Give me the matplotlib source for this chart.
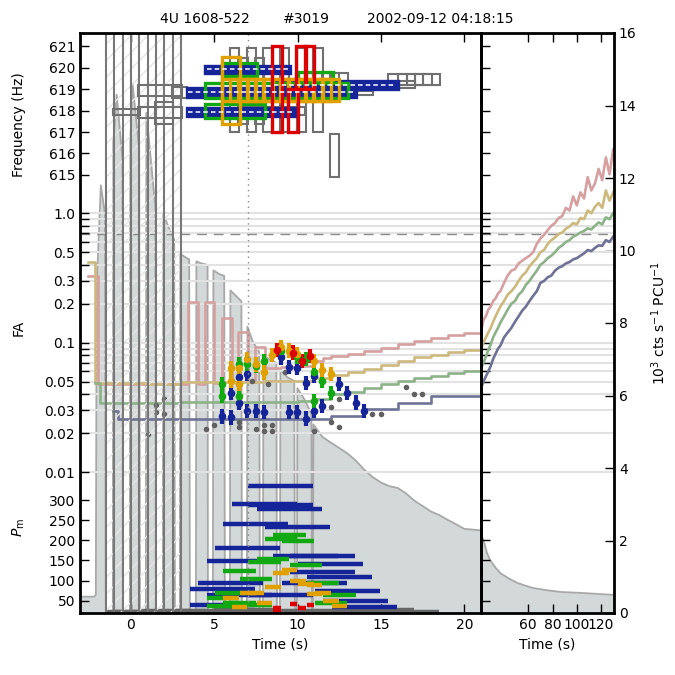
import matplotlib
matplotlib.use("Agg")
import matplotlib.pyplot as plt
from matplotlib.patches import Rectangle
from matplotlib.ticker import FixedLocator, FixedFormatter, NullLocator

# ---------------- light curve (10^3 cts/s/PCU) ----------------
lc_t = [-3.05, -2.2, -2.1, -2.05, -1.8, -1.55, -1.5, -1.08,
        -1.05, -0.85, -0.5, -0.48, -0.06,
        -0.03, 0.1, 0.5, 0.54, 0.9,
        0.93, 1.3, 1.47, 1.5, 1.92,
        1.95, 2.3, 2.6, 2.64, 2.94,
        2.97, 3.5, 3.54, 3.9,
        3.93, 4.2, 4.6, 4.62, 4.92,
        4.95, 5.3, 5.6, 5.64, 5.94,
        5.97, 6.3, 6.63, 6.66, 6.96,
        6.99, 7.3, 7.7, 7.74, 7.92,
        7.95, 8.3, 8.73, 8.76, 8.94,
        8.97, 9.4, 9.8, 9.84, 9.96,
        9.99, 10.4, 10.83, 10.86, 10.92,
        10.95, 11.5, 12.0, 12.5, 13.0, 13.5, 14.0, 14.5, 15.0, 15.5,
        16.0, 16.5, 17.0, 17.5, 18.0, 18.5, 19.0, 19.5, 20.0, 20.5, 21.0]
lc_rate = [0.45, 0.45, 0.5, 9.0, 11.8, 11.0, 0.0, 0.0,
           13.0, 14.3, 12.5, 0.0, 0.0,
           13.0, 14.6, 12.8, 0.0, 0.0,
           13.8, 12.0, 11.2, 0.0, 0.0,
           11.0, 10.6, 10.3, 0.0, 0.0,
           9.9, 9.75, 0.0, 0.0,
           9.7, 9.65, 9.6, 0.0, 0.0,
           9.45, 9.35, 9.3, 0.0, 0.0,
           8.9, 8.75, 8.6, 0.0, 0.0,
           7.9, 7.5, 7.2, 0.0, 0.0,
           7.1, 7.0, 6.9, 0.0, 0.0,
           6.7, 6.5, 6.4, 0.0, 0.0,
           6.2, 5.9, 5.5, 0.0, 0.0,
           5.2, 4.85, 4.7, 4.55, 4.4, 4.2, 3.95, 3.75, 3.6, 3.5,
           3.45, 3.3, 3.1, 2.95, 2.8, 2.7, 2.57, 2.45, 2.32, 2.3, 2.28]
lc2_t = [21.0, 22.0, 24.0, 26.0, 28.5, 33.0, 37.0, 44.0, 51.0, 58.0,
         64.0, 75.0, 87.0, 106.0, 120.0, 131.0]
lc2_rate = [2.28, 2.1, 1.9, 1.65, 1.46, 1.25, 1.1, 0.95, 0.83, 0.75,
            0.69, 0.63, 0.58, 0.55, 0.52, 0.5]

# edges of the hatched (excluded) intervals
hatch_edges = [-1.5, -1.0, -0.5, 0.0, 0.5, 1.0, 1.5, 2.0, 2.5, 3.0]

# ---------------- frequency boxes: (t0, t1, f0, f1) ----------------
grey_boxes = [(-1.05, 0.55, 617.8, 618.1), (0.45, 3.05, 618.7, 619.2),
              (0.45, 3.05, 617.65, 618.16), (1.45, 2.5, 617.4, 618.4),
              (2.45, 3.35, 618.6, 619.1), (4.45, 5.95, 619.76, 620.1),
              (5.95, 6.5, 617.0, 620.95), (6.95, 7.5, 617.0, 620.95),
              (7.95, 8.5, 617.0, 620.95), (8.95, 9.5, 617.0, 620.95),
              (9.95, 10.5, 617.0, 620.95), (10.95, 11.5, 617.0, 620.95),
              (6.45, 7.0, 617.4, 620.45), (7.45, 8.0, 617.4, 620.45),
              (6.5, 10.45, 617.8, 618.15), (10.45, 11.5, 619.25, 619.75),
              (10.95, 12.0, 619.25, 619.75), (11.45, 12.5, 619.25, 619.75),
              (11.95, 13.0, 619.25, 619.75), (12.45, 14.5, 618.75, 619.05),
              (13.0, 14.5, 618.9, 619.2), (15.44, 16.54, 619.2, 619.7),
              (16.04, 17.04, 619.2, 619.7), (16.54, 17.54, 619.2, 619.7),
              (17.04, 18.04, 619.2, 619.7), (17.54, 18.54, 619.2, 619.7),
              (16.04, 17.04, 619.05, 619.37), (11.95, 12.5, 614.9, 616.9)]
blue_boxes = [(4.45, 9.55, 619.76, 620.1), (3.35, 13.5, 618.65, 619.05),
              (8.5, 16.0, 619.03, 619.37), (3.35, 9.85, 617.74, 618.13)]
green_boxes = [(5.45, 7.55, 619.62, 620.25), (4.45, 13.0, 618.6, 619.3),
               (4.45, 8.05, 617.65, 618.3), (10.0, 12.1, 619.4, 619.8)]
orange_boxes = [(5.45, 6.55, 617.4, 620.5),
                (5.45, 6.5, 618.45, 619.5), (5.95, 7.0, 618.45, 619.5),
                (6.45, 7.5, 618.45, 619.5), (6.95, 8.0, 618.45, 619.5),
                (7.45, 8.5, 618.45, 619.5), (7.95, 9.0, 618.45, 619.5),
                (8.45, 9.5, 618.45, 619.5), (8.95, 10.0, 618.45, 619.5),
                (9.45, 10.5, 618.45, 619.5), (9.95, 11.0, 618.45, 619.5),
                (10.45, 11.5, 618.45, 619.5), (10.95, 12.0, 618.45, 619.5),
                (11.45, 12.5, 618.45, 619.5)]
red_boxes = [(8.45, 9.05, 617.0, 621.0), (9.42, 10.0, 617.0, 619.0),
             (9.9, 10.5, 619.0, 621.0), (10.45, 11.0, 619.0, 621.0)]

# ---------------- FA thresholds (steps in left panel) ----------------
pink_t = [-2.6, -2.0, 3.45, 4.0, 4.45, 5.0, 5.45, 6.05, 6.45, 7.0, 7.45, 8.05,
          9.0, 10.0, 11.0, 11.5, 12.0, 13.0, 14.0, 15.0, 16.0, 17.0, 18.0,
          19.0, 20.0, 21.0]
pink_fa = [0.33, 0.048, 0.205, 0.048, 0.205, 0.049, 0.156, 0.05, 0.122, 0.05,
           0.092, 0.064, 0.065, 0.066, 0.072, 0.076, 0.079, 0.082, 0.086,
           0.091, 0.097, 0.103, 0.109, 0.114, 0.118, 0.122]
tan_t = [-2.6, -2.15, 1.0, 3.0, 8.0, 10.0, 11.0, 12.0, 13.0, 14.0, 15.0, 16.0,
         17.0, 18.0, 19.0, 20.0, 21.0]
tan_fa = [0.42, 0.049, 0.048, 0.05, 0.051, 0.051, 0.053, 0.056, 0.059, 0.063,
          0.067, 0.072, 0.077, 0.081, 0.085, 0.088, 0.09]
sage_t = [-2.15, -1.85, 3.0, 9.0, 10.0, 11.0, 12.0, 13.0, 14.0, 15.0, 16.0,
          17.0, 18.0, 19.0, 20.0, 21.0]
sage_fa = [0.049, 0.034, 0.035, 0.035, 0.0357, 0.037, 0.04, 0.042, 0.045,
           0.048, 0.051, 0.053, 0.0557, 0.058, 0.061, 0.063]
slate_t = [-1.05, -0.75, 4.0, 8.0, 10.0, 12.0, 14.0, 16.0, 18.0, 21.0]
slate_fa = [0.0297, 0.0257, 0.026, 0.026, 0.0258, 0.027, 0.0306, 0.0345,
            0.039, 0.045]

# right panel continuation (noisy rise)
thr2_t = [21, 23, 25, 27, 29, 31, 33, 35, 37, 40, 43, 46, 49, 52, 55, 58, 61,
          64, 67, 70, 73, 76, 79, 82, 85, 88, 91, 94, 97, 100, 103, 106, 109,
          112, 115, 118, 121, 124, 127, 130]
pink2_fa = [0.122, 0.15, 0.16, 0.18, 0.19, 0.21, 0.22, 0.24, 0.25, 0.29, 0.33,
            0.36, 0.37, 0.41, 0.43, 0.45, 0.47, 0.5, 0.58, 0.64, 0.68, 0.74,
            0.8, 0.84, 0.92, 0.95, 1.1, 1.05, 1.35, 1.15, 1.45, 1.3, 1.9, 1.5,
            1.7, 2.2, 1.8, 2.7, 2.0, 3.1]
tan2_fa = [0.09, 0.1, 0.11, 0.12, 0.13, 0.145, 0.16, 0.175, 0.19, 0.21, 0.235,
           0.25, 0.27, 0.3, 0.33, 0.35, 0.39, 0.42, 0.45, 0.5, 0.52, 0.58,
           0.62, 0.65, 0.69, 0.71, 0.76, 0.79, 0.84, 0.82, 0.92, 0.9, 1.05,
           1.0, 1.12, 1.2, 1.1, 1.5, 1.25, 1.45]
sage2_fa = [0.063, 0.07, 0.078, 0.088, 0.097, 0.11, 0.12, 0.13, 0.143, 0.16,
            0.18, 0.2, 0.21, 0.235, 0.25, 0.28, 0.3, 0.33, 0.36, 0.4, 0.42,
            0.45, 0.47, 0.5, 0.54, 0.565, 0.6, 0.62, 0.66, 0.68, 0.71, 0.73,
            0.765, 0.75, 0.8, 0.85, 0.82, 0.93, 0.9, 1.0]
slate2_fa = [0.045, 0.05, 0.055, 0.06, 0.066, 0.075, 0.082, 0.09, 0.095, 0.11,
             0.12, 0.13, 0.145, 0.16, 0.177, 0.19, 0.21, 0.23, 0.25, 0.29,
             0.3, 0.32, 0.33, 0.36, 0.38, 0.39, 0.41, 0.42, 0.44, 0.45, 0.47,
             0.49, 0.52, 0.51, 0.54, 0.565, 0.56, 0.62, 0.6, 0.66]

fa_dashed = 0.69

# ---------------- FA of candidates: (t, FA) ----------------
fa_blue = [(5.48, 0.027), (5.98, 0.041), (5.98, 0.0265), (6.48, 0.054),
           (6.48, 0.0345), (6.98, 0.057), (6.98, 0.0298), (7.48, 0.0298),
           (7.98, 0.029), (8.98, 0.077), (9.48, 0.029), (9.48, 0.065),
           (9.98, 0.029), (9.98, 0.064), (10.48, 0.049), (10.48, 0.026),
           (10.98, 0.0557), (10.98, 0.0298), (11.48, 0.0325), (12.48, 0.048),
           (12.98, 0.041), (13.48, 0.0345), (13.98, 0.0298)]
fa_green = [(5.48, 0.048), (5.48, 0.039), (6.48, 0.068), (6.48, 0.039),
            (6.98, 0.068), (7.48, 0.066), (7.98, 0.072), (8.98, 0.087),
            (9.98, 0.078), (10.48, 0.075), (10.98, 0.059), (10.98, 0.0357),
            (11.48, 0.051), (11.98, 0.041)]
fa_orange = [(5.98, 0.064), (5.98, 0.051), (6.48, 0.064), (6.48, 0.048),
             (6.98, 0.075), (7.48, 0.068), (7.98, 0.059), (8.48, 0.08),
             (8.98, 0.092), (9.48, 0.087), (9.98, 0.082), (10.98, 0.0725),
             (11.48, 0.062), (11.98, 0.057)]
fa_red = [(8.74, 0.088), (9.74, 0.084), (10.24, 0.072), (10.74, 0.079)]
fa_grey = [(1.0, 0.0197), (1.5, 0.033), (1.5, 0.029), (2.0, 0.037),
           (2.0, 0.028), (4.48, 0.0215), (4.98, 0.023), (6.48, 0.0244),
           (6.48, 0.0225), (7.24, 0.051), (7.48, 0.0216), (7.98, 0.023),
           (7.98, 0.0208), (8.2, 0.048), (8.48, 0.023), (8.48, 0.021),
           (9.24, 0.059), (10.98, 0.0208), (11.98, 0.0317), (11.98, 0.0246),
           (12.48, 0.0365), (12.48, 0.0222), (14.48, 0.028), (14.98, 0.028),
           (16.48, 0.0455), (16.98, 0.0405), (17.48, 0.0405)]

# ---------------- Pm bars: (t0, t1, Pm) ----------------
pm_blue = [(3.54, 7.44, 80), (3.54, 7.44, 39), (4.04, 7.94, 94),
           (4.54, 8.44, 149), (4.54, 8.44, 64), (5.04, 8.94, 180),
           (5.54, 9.44, 241), (6.04, 9.94, 291), (7.04, 10.94, 287),
           (7.04, 10.94, 335), (7.04, 10.94, 64), (7.54, 11.44, 278),
           (8.04, 11.94, 234), (8.54, 12.44, 161), (9.04, 12.94, 94),
           (9.54, 13.44, 161), (9.54, 13.44, 120), (10.04, 13.94, 141),
           (10.54, 14.44, 108), (11.04, 14.94, 75), (11.54, 15.44, 48),
           (12.04, 15.94, 35)]
pm_green = [(8.54, 10.49, 214), (8.04, 9.99, 203), (9.04, 10.99, 198),
            (7.54, 9.49, 153), (7.04, 8.99, 145), (9.54, 11.49, 138),
            (5.54, 7.49, 124), (6.54, 8.49, 104), (10.54, 12.49, 94),
            (5.04, 6.99, 69), (4.54, 6.49, 56), (11.54, 13.49, 65),
            (5.54, 7.49, 45), (6.54, 8.49, 40), (11.04, 12.99, 45),
            (4.54, 6.49, 38)]
pm_orange = [(8.54, 9.49, 118), (9.04, 9.99, 126), (9.54, 10.49, 100),
             (10.04, 10.99, 92), (10.54, 11.49, 88), (8.04, 8.99, 83),
             (6.54, 7.49, 69), (7.04, 7.99, 69), (11.04, 11.99, 69),
             (5.54, 6.49, 56), (7.54, 8.49, 44), (6.04, 6.99, 34),
             (11.54, 12.49, 48), (12.04, 12.99, 36), (10.54, 11.49, 66)]
pm_red = [(8.54, 8.99, 33), (8.54, 8.99, 27), (9.54, 9.99, 41),
          (10.04, 10.49, 33), (10.54, 10.99, 40)]
pm_grey = [(-1.5, 2.5, 22), (-1.0, 3.0, 21), (0.5, 4.5, 25), (2.5, 6.5, 24),
           (3.0, 7.0, 22), (5.0, 9.0, 26), (7.0, 11.0, 23), (9.0, 13.0, 25),
           (11.0, 15.0, 22), (13.0, 17.0, 27), (14.5, 18.5, 22)]

freq_ticks = [615, 616, 617, 618, 619, 620, 621]
fa_ticks = [0.01, 0.02, 0.03, 0.04, 0.05, 0.06, 0.07, 0.08, 0.09,
            0.1, 0.2, 0.3, 0.4, 0.5, 0.6, 0.7, 0.8, 0.9, 1.0]
fa_labelled = {0.01: "0.01", 0.02: "0.02", 0.03: "0.03", 0.05: "0.05",
               0.1: "0.1", 0.2: "0.2", 0.3: "0.3", 0.5: "0.5", 1.0: "1.0"}
pm_ticks = [50, 100, 150, 200, 250, 300]
rate_ticks = [0, 2, 4, 6, 8, 10, 12, 14, 16]

BLUE, GREEN, ORANGE, RED, GREY = "#16249a", "#12a812", "#e0a000", "#dd0000", "#707070"
PINK, TAN, SAGE, SLATE = "#d7a0a0", "#cdb97d", "#8cb287", "#6e7396"
FILL, EDGE = "#d3d8d8", "#a8a8a8"

fs = 10
fig = plt.figure(figsize=(6.75, 6.75), dpi=100)
L, M, R = 80 / 675, 481 / 675, 614 / 675
B, T = 62 / 675, 642 / 675
rectL = [L, B, M - L, T - B]
rectR = [M, B, R - M, T - B]

tick_kw = dict(direction="in", length=6.5, width=1, labelsize=fs)


def overlay(rect, share, labels):
    a = fig.add_axes(rect, sharex=share)
    a.patch.set_visible(False)
    for s in a.spines.values():
        s.set_visible(False)
    a.tick_params(axis="x", which="both", bottom=False, top=False,
                  labelbottom=False, labeltop=False)
    a.tick_params(axis="y", which="both", left=True, right=False,
                  labelleft=labels, **tick_kw)
    a.yaxis.set_minor_locator(NullLocator())
    return a


# base light-curve axes
axL = fig.add_axes(rectL)
axR = fig.add_axes(rectR)
for a in (axL, axR):
    a.set_ylim(0, 16)
    for s in a.spines.values():
        s.set_visible(False)
axL.set_xlim(-3.05, 21.0)
axR.set_xlim(21.0, 130.7)

axL.fill_between(lc_t, lc_rate, color=FILL, lw=0)
axL.plot(lc_t, lc_rate, color=EDGE, lw=1.3)
axR.fill_between(lc2_t, lc2_rate, color=FILL, lw=0)
axR.plot(lc2_t, lc2_rate, color=EDGE, lw=1.3)

axL.set_xticks([0, 5, 10, 15, 20])
axL.set_yticks([])
axL.tick_params(axis="x", top=True, **tick_kw)
axL.set_xlabel("Time (s)", fontsize=fs)
axR.set_xticks([60, 80, 100, 120])
axR.tick_params(axis="x", top=True, **tick_kw)
axR.set_xlabel("Time (s)", fontsize=fs)
axR.yaxis.tick_right()
axR.set_yticks(rate_ticks)
axR.tick_params(axis="y", left=False, right=True, **tick_kw)
axR.yaxis.set_label_position("right")
axR.set_ylabel(r"$10^3$ cts s$^{-1}$ PCU$^{-1}$", fontsize=fs, labelpad=9)

# FA axes
axA_L = overlay(rectL, axL, True)
axA_R = overlay(rectR, axR, False)
for a in (axA_L, axA_R):
    a.set_yscale("log")
    a.set_ylim(10 ** -3.087, 10 ** 1.392)
    a.yaxis.set_major_locator(FixedLocator(fa_ticks))
    a.yaxis.set_major_formatter(FixedFormatter([fa_labelled.get(v, "") for v in fa_ticks]))
    a.yaxis.set_minor_locator(NullLocator())
    for v in fa_ticks:
        a.axhline(v, color="#e2e2e2", lw=1.5, zorder=1)
    a.axhline(fa_dashed, color="#8a8a8a", lw=1, ls=(0, (7, 5)), zorder=1.5)

for ts, fa, c in ((pink_t, pink_fa, PINK), (tan_t, tan_fa, TAN),
                  (sage_t, sage_fa, SAGE), (slate_t, slate_fa, SLATE)):
    axA_L.plot(ts, fa, color=c, lw=1.9, drawstyle="steps-post", zorder=2)
for fa, c in ((pink2_fa, PINK), (tan2_fa, TAN), (sage2_fa, SAGE), (slate2_fa, SLATE)):
    axA_R.plot(thr2_t, fa, color=c, lw=1.9, zorder=2)

axA_L.plot([p[0] for p in fa_grey], [p[1] for p in fa_grey], "o",
           color="#606060", ms=4, mec="none", zorder=3)
err = 0.055
for pts, c in ((fa_blue, BLUE), (fa_green, GREEN), (fa_orange, ORANGE), (fa_red, RED)):
    xs = [p[0] for p in pts]
    ys = [p[1] for p in pts]
    lo = [y * (1 - 10 ** -err) for y in ys]
    hi = [y * (10 ** err - 1) for y in ys]
    axA_L.errorbar(xs, ys, yerr=[lo, hi], fmt="o", color=c, ms=5.5, mec="none",
                   elinewidth=3, capsize=0, zorder=4)

# Pm axes
axP_L = overlay(rectL, axL, True)
axP_R = overlay(rectR, axR, False)
for a in (axP_L, axP_R):
    a.set_ylim(19.4, 1459.7)
    a.set_yticks(pm_ticks)
for bars, c in ((pm_grey, "#666666"), (pm_blue, BLUE), (pm_green, GREEN),
                (pm_orange, ORANGE), (pm_red, RED)):
    for t0, t1, pm in bars:
        axP_L.plot([t0, t1], [pm, pm], color=c, lw=3.2, solid_capstyle="butt")

# Frequency axes (on top, carries the frame)
axF_L = overlay(rectL, axL, True)
axF_R = overlay(rectR, axR, False)
for a in (axF_L, axF_R):
    a.set_ylim(594.53, 621.63)
    a.set_yticks(freq_ticks)
    for s in a.spines.values():
        s.set_visible(True)
        s.set_linewidth(2)

axF_L.axvspan(hatch_edges[0], hatch_edges[-1], facecolor="none",
              edgecolor="#e6e6e6", hatch="//", lw=0, zorder=1)
for e in hatch_edges:
    axF_L.axvline(e, color="#787878", lw=1.5, zorder=1.2)
axF_L.axvline(7.0, color="#8a8a8a", lw=1, ls=(0, (1, 3)), zorder=1.1)

for boxes, c, lw in ((grey_boxes, GREY, 1.5), (blue_boxes, BLUE, 2.4),
                     (green_boxes, GREEN, 2.4), (orange_boxes, ORANGE, 2.4),
                     (red_boxes, RED, 2.4)):
    for t0, t1, f0, f1 in boxes:
        axF_L.add_patch(Rectangle((t0, f0), t1 - t0, f1 - f0,
                                  facecolor=BLUE if c == BLUE else "none",
                                  edgecolor=c, lw=lw, zorder=2))
        if c == BLUE:
            axF_L.plot([t0 + 0.1, t1 - 0.1], [(f0 + f1) / 2] * 2, color="white",
                       lw=1.1, ls=(0, (3, 2)), zorder=2.1)

# labels and title
fig.text(19 / 675, 1 - 125 / 675, "Frequency (Hz)", rotation=90,
         ha="center", va="center", fontsize=fs)
fig.text(19 / 675, 1 - 328 / 675, "FA", rotation=90,
         ha="center", va="center", fontsize=fs)
fig.text(19 / 675, 1 - 527 / 675, r"$P_\mathrm{m}$", rotation=90,
         ha="center", va="center", fontsize=fs)
fig.text(205 / 675, 1 - 19 / 675, "4U 1608-522", ha="center", va="center", fontsize=fs)
fig.text(306 / 675, 1 - 19 / 675, "#3019", ha="center", va="center", fontsize=fs)
fig.text(440 / 675, 1 - 19 / 675, "2002-09-12 04:18:15", ha="center", va="center", fontsize=fs)

fig.savefig("out.png", dpi=100)
